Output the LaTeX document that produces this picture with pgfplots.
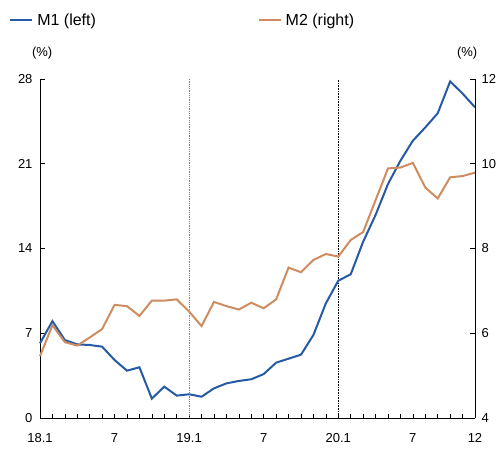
\documentclass[border=0pt]{standalone}
\usepackage{pgfplots}
\pgfplotsset{compat=1.18}
\usepackage{fontspec}
\setmainfont{Liberation Sans}
\definecolor{mblue}{RGB}{38,90,165}
\definecolor{morange}{RGB}{206,140,96}

\pgfplotstableread{
m v
0 6.17
1 8.0
2 6.44
3 6.08
4 6.03
5 5.89
6 4.79
7 3.91
8 4.19
9 1.6
10 2.59
11 1.85
12 1.96
13 1.76
14 2.45
15 2.86
16 3.06
17 3.2
18 3.63
19 4.57
20 4.9
21 5.23
22 6.86
23 9.47
24 11.34
25 11.87
26 14.56
27 16.77
28 19.33
29 21.25
30 22.9
31 24.0
32 25.17
33 27.8
34 26.8
35 25.66
}\mone

\pgfplotstableread{
m v
0 5.46
1 6.19
2 5.79
3 5.71
4 5.90
5 6.10
6 6.67
7 6.64
8 6.41
9 6.77
10 6.77
11 6.80
12 6.51
13 6.17
14 6.74
15 6.64
16 6.56
17 6.72
18 6.59
19 6.80
20 7.55
21 7.44
22 7.73
23 7.87
24 7.81
25 8.20
26 8.39
27 9.14
28 9.89
29 9.91
30 10.02
31 9.44
32 9.18
33 9.68
34 9.71
35 9.79
}\mtwo

\begin{document}
\begin{tikzpicture}
\useasboundingbox (-40pt,-30pt) rectangle (458pt,418pt);
\pgfplotsset{every axis/.append style={
  scale only axis, width=435pt, height=339pt, xmin=0, xmax=35,
  axis line style={-, line width=0.8pt},
  tick style={line width=0.6pt, black},
  tick align=inside, major tick length=4.5pt, minor tick length=4.5pt,
  /pgf/number format/assume math mode=true,
  tick label style={font=\fontsize{13}{14}\selectfont},
  clip=false,
  legend image code/.code={\draw[#1] (0pt,0pt) -- (22pt,0pt);},
  legend style={draw=none, fill=none, inner sep=0pt, anchor=west,
    font=\fontsize{16}{17}\selectfont, cells={anchor=west},
    /tikz/every odd column/.append style={column sep=2pt}},
}}
\begin{axis}[at={(0,0)}, anchor=south west,
  axis x line*=bottom, axis y line*=left,
  ymin=0, ymax=28, ytick={0,7,14,21,28},
  xtick={0,6,12,18,24,30,35}, xticklabels={18.1,7,19.1,7,20.1,7,12},
  minor xtick={0,...,35},
  xticklabel style={yshift=-12pt},
  yticklabel style={xshift=-4pt},
  legend style={at={(axis description cs:-0.071,1.173)}},
]
\addplot[gray, densely dotted, line width=0.8pt, forget plot] coordinates {(12,0) (12,28)};
\addplot[black, densely dotted, line width=0.6pt, forget plot] coordinates {(24,0) (24,28)};
\addplot[mblue, line width=2pt] table[x=m, y=v] {\mone};
\addlegendentry{M1 (left)}
\node[font=\fontsize{13}{14}\selectfont] at (axis description cs:0.005,1.075) {(\%)};
\node[font=\fontsize{13}{14}\selectfont] at (axis description cs:0.982,1.075) {(\%)};
\end{axis}
\begin{axis}[at={(0,0)}, anchor=south west,
  axis x line=none, axis y line*=right,
  ymin=4, ymax=12, ytick={4,6,8,10,12},
  yticklabel style={xshift=3pt},
  legend style={at={(axis description cs:0.500,1.173)}},
]
\addplot[morange, line width=2pt] table[x=m, y=v] {\mtwo};
\addlegendentry{M2 (right)}
\end{axis}
\end{tikzpicture}
\end{document}
